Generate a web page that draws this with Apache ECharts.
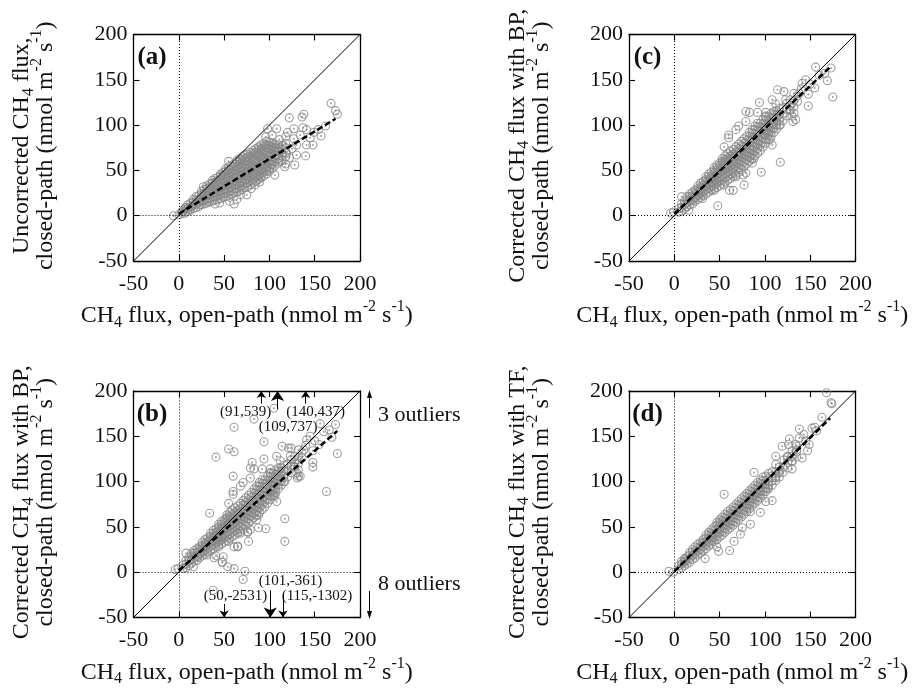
<!DOCTYPE html>
<html>
<head>
<meta charset="utf-8">
<title>CH4 flux: closed-path vs open-path</title>
<script src="https://cdn.jsdelivr.net/npm/echarts@6/dist/echarts.min.js"></script>
<style>
  html, body { margin: 0; padding: 0; background: #fff; }
  #chart { width: 917px; height: 689px; }
</style>
</head>
<body>
<div id="chart"></div>
<script type="text/javascript">
// axis ticks shared by every panel (nmol m-2 s-1)
var axisTicks = [-50, 0, 50, 100, 150, 200];
var oneToOne = [[-50, -50], [200, 200]];

// (a) uncorrected closed-path vs open-path
var aSparse = [[168,124],[173,116],[175,112],[122,108],[136,109],[138,112],[162,99],[154,95],[157,88],[148,78],
  [141,95],[127,96],[137,97],[140,66],[128,56],[118,57],[130,67],[98,96],[96,87],[111,84],[118,87],[55,60],
  [27,32],[61,13],[64,18],[-6,0],[0,1],[84,34],[106,45],[117,54],[45,14],[40,13],[75,23],[127,85],[130,78],
  [125,74],[141,78],[134,89],[149,92],[119,69],[108,67],[104,78],[115,78],[103,56],[112,60],[90,43],[97,49],
  [68,23],[56,16],[12,7],[8,9],[32,16],[23,12],[3,4],[108,96],[103,89],[122,64],[113,72],[120,92],[145,86],
  [89,37],[80,30]];
// columns of the dense cloud: [x, y, y, ...]
var aCore = [
  [4, 2, 5], [7, 3, 7, 9], [10, 5, 8, 12], [13, 6, 10, 14], [16, 8, 12, 15, 18], [19, 9, 13, 17, 21],
  [22, 10, 15, 18, 22], [25, 12, 16, 21, 24, 27], [28, 13, 17, 22, 25, 29], [31, 14, 19, 22, 27, 30, 33],
  [34, 15, 19, 24, 27, 32, 35], [37, 16, 21, 24, 29, 32, 36, 39], [40, 17, 21, 26, 29, 34, 37, 41],
  [43, 18, 23, 26, 31, 34, 39, 42], [46, 19, 23, 28, 31, 36, 39, 44, 46], [49, 20, 25, 28, 33, 36, 41, 44, 48],
  [52, 21, 25, 30, 33, 38, 41, 46, 49, 52], [55, 22, 27, 30, 35, 38, 43, 46, 51, 54],
  [58, 23, 27, 32, 35, 40, 43, 48, 51, 55], [61, 25, 30, 33, 38, 41, 46, 49, 54, 57],
  [64, 26, 30, 35, 38, 43, 46, 51, 54, 59, 61], [67, 28, 33, 36, 41, 44, 49, 52, 57, 60, 63],
  [70, 29, 33, 38, 41, 46, 49, 54, 57, 62, 65], [73, 31, 36, 39, 44, 47, 52, 55, 60, 63, 67],
  [76, 32, 36, 41, 44, 49, 52, 57, 60, 65, 68], [79, 34, 39, 42, 47, 50, 55, 58, 63, 66, 70],
  [82, 36, 40, 45, 48, 53, 56, 61, 64, 69, 72], [85, 38, 43, 46, 51, 54, 59, 62, 67, 70, 74],
  [88, 40, 44, 49, 52, 57, 60, 65, 68, 73, 76], [91, 42, 47, 50, 55, 58, 63, 66, 71, 74, 78],
  [94, 44, 48, 53, 56, 61, 64, 69, 72, 77, 80], [97, 46, 51, 54, 59, 62, 67, 70, 75, 78, 82],
  [100, 49, 53, 58, 61, 66, 69, 74, 77, 81], [103, 52, 57, 60, 65, 68, 73, 76, 80],
  [106, 55, 59, 64, 67, 72, 75, 79], [110, 58, 63, 66, 71, 74, 78], [114, 61, 66, 69, 74, 77],
  [118, 65, 70, 75, 80]];
var aFit = [[0, 2], [173, 107]];

// (c) corrected with BP, outliers removed
var cSparse = [[156,164],[173,163],[166,157],[169,149],[155,141],[175,131],[148,121],[148,134],[141,146],
  [114,139],[121,137],[132,135],[138,135],[130,124],[132,113],[134,106],[131,104],[130,110],[94,125],[83,114],
  [92,114],[101,114],[110,115],[79,104],[60,89],[60,86],[55,76],[71,99],[117,59],[96,48],[76,45],[77,34],
  [61,28],[65,28],[48,11],[31,19],[16,6],[8,21],[-4,3],[-1,4],[106,84],[108,78],[104,91],[86,58],[88,63],
  [79,47],[68,43],[55,34],[44,28],[27,23],[21,17],[47,38],[68,95],[79,115],[108,128],[123,128],[127,117],
  [112,123],[101,110],[117,100],[104,100],[140,140],[145,150],[160,155],[150,145]];
var cCore = [
  [5, 4, 8], [8, 5, 9, 13], [11, 7, 12, 16], [14, 10, 14, 18, 21], [17, 12, 16, 21, 24], [20, 13, 18, 22, 26],
  [23, 16, 20, 25, 28], [26, 18, 22, 27, 30, 33], [29, 20, 25, 28, 32, 36], [32, 22, 26, 31, 34, 38],
  [35, 24, 29, 32, 37, 40, 43], [38, 26, 30, 35, 38, 43, 46], [41, 28, 33, 36, 41, 44, 48],
  [44, 30, 34, 39, 42, 47, 50, 53], [47, 31, 36, 40, 45, 48, 53, 56], [50, 33, 38, 42, 47, 50, 55, 58],
  [53, 35, 40, 44, 49, 52, 57, 60, 63], [56, 37, 42, 46, 51, 54, 59, 62, 66], [59, 39, 44, 48, 53, 56, 61, 64, 69],
  [62, 41, 46, 50, 55, 58, 63, 66, 71], [65, 43, 48, 52, 57, 60, 65, 68, 73], [68, 45, 50, 54, 59, 62, 67, 70, 76],
  [71, 48, 53, 57, 62, 65, 70, 74, 79], [74, 51, 56, 60, 65, 68, 73, 77, 82], [77, 54, 59, 63, 68, 71, 76, 80, 85],
  [80, 57, 62, 66, 71, 74, 79, 83, 88], [83, 60, 65, 69, 74, 77, 82, 87, 92], [86, 63, 68, 72, 77, 81, 86, 91, 95],
  [89, 66, 71, 75, 80, 85, 90, 95, 99], [92, 69, 74, 79, 84, 89, 94, 98, 102], [95, 72, 78, 83, 88, 93, 97, 102],
  [98, 76, 81, 86, 91, 96, 101, 106], [101, 80, 85, 90, 95, 100, 105, 109], [104, 84, 89, 94, 99, 104, 109],
  [107, 88, 93, 98, 103, 108, 113], [110, 92, 97, 102, 107, 112], [113, 96, 101, 106, 111, 116],
  [116, 100, 106, 112, 118], [120, 105, 112, 119], [124, 110, 117, 124], [128, 116, 122, 128],
  [132, 120, 127], [136, 126, 132]];
var cFit = [[0, 2], [172, 164]];

// (b) corrected with BP, all points: (c) plus these
var bExtra = [[61,160],[105,181],[83,169],[41,127],[55,136],[61,133],[94,144],[81,121],[60,106],[34,65],
  [117,34],[163,89],[73,1],[71,-8],[61,4],[54,6],[41,18],[48,11],[38,-20],[124,137],[148,116],[132,106],
  [39,16],[49,17],[65,29],[76,44],[88,49],[105,86]];
var bFit = [[0, 2], [175, 156]];
// points off the scale: [open-path, closed-path]
var bHigh = [[91, 539], [109, 737], [140, 437]];
var bLow = [[50, -2531], [101, -361], [115, -1302]];
var bOutlierCounts = [3, 8];

// (d) corrected with TF
var dSparse = [[168,198],[173,187],[174,186],[163,171],[157,156],[152,159],[138,158],[127,147],[138,148],
  [143,152],[147,134],[141,126],[130,123],[130,114],[121,124],[125,128],[112,128],[112,119],[119,139],
  [126,141],[134,141],[149,141],[55,86],[95,66],[108,79],[84,53],[73,42],[66,34],[61,24],[47,28],[34,15],
  [12,14],[-6,1],[-1,0],[101,78],[112,104],[103,93],[84,67],[95,89],[86,82],[75,49],[49,23],[42,38],
  [31,32],[88,110],[115,111],[145,145],[155,160],[135,135]];
var dCore = [
  [5, 3, 7], [8, 5, 9, 12], [11, 7, 11, 15], [14, 9, 13, 17], [17, 11, 15, 19, 22], [20, 14, 18, 22, 25],
  [23, 16, 20, 24, 28], [26, 19, 23, 27, 31], [29, 21, 25, 29, 33], [32, 24, 28, 32, 36],
  [35, 26, 30, 34, 38, 41], [38, 29, 33, 37, 41, 44], [41, 31, 35, 39, 43, 47], [44, 34, 38, 42, 46, 50],
  [47, 36, 40, 44, 48, 52, 55], [50, 39, 43, 47, 51, 55, 58], [53, 41, 45, 49, 53, 57, 61],
  [56, 44, 48, 52, 56, 60, 64], [59, 47, 51, 55, 59, 63, 67], [62, 49, 53, 57, 61, 65, 69],
  [65, 52, 56, 60, 64, 68, 72], [68, 55, 59, 63, 67, 71, 75], [71, 58, 62, 66, 70, 74, 78],
  [74, 61, 65, 69, 73, 77, 81], [77, 64, 68, 72, 76, 80, 84], [80, 67, 71, 75, 79, 83, 87],
  [83, 70, 74, 78, 82, 86, 90], [86, 73, 77, 81, 85, 89, 93], [89, 76, 80, 84, 88, 92, 96],
  [92, 79, 83, 87, 91, 95, 99], [95, 82, 86, 90, 94, 98, 102], [98, 85, 89, 93, 97, 101, 105],
  [101, 89, 93, 97, 101, 106], [104, 92, 96, 100, 104, 109], [108, 96, 101, 106, 111], [112, 101, 106, 111],
  [116, 105, 110, 116], [120, 110, 116], [125, 115, 121, 127], [130, 122, 128, 134], [135, 127, 133, 139]];
var dFit = [[0, 1], [172, 170]];

var FONT = '"Liberation Serif", "Times New Roman", serif';
var GRAY = '#878787';
var INK = '#111';

function expand(sparse, core) {
  var pts = sparse.slice();
  core.forEach(function (col) {
    for (var i = 1; i < col.length; i++) pts.push([col[0], col[i]]);
  });
  return pts;
}

var cPoints = expand(cSparse, cCore);
var panels = [
  { tag: '(a)', left: 133.5, top: 34.5, pts: expand(aSparse, aCore), fit: aFit,
    ytitle: 'Uncorrected CH{sub|4} flux,' },
  { tag: '(b)', left: 133.5, top: 391, pts: cPoints.concat(bExtra), fit: bFit,
    ytitle: 'Corrected CH{sub|4} flux with BP,' },
  { tag: '(c)', left: 629, top: 34.5, pts: cPoints, fit: cFit,
    ytitle: 'Corrected CH{sub|4} flux with BP,' },
  { tag: '(d)', left: 629, top: 391, pts: expand(dSparse, dCore), fit: dFit,
    ytitle: 'Corrected CH{sub|4} flux with TF,' }
];
var SIDE = 226.5;

var rich = {
  sub: { fontSize: 16, fontFamily: FONT, fill: INK, height: 11, verticalAlign: 'bottom' },
  sup: { fontSize: 16, fontFamily: FONT, fill: INK, height: 6, verticalAlign: 'top' }
};
var xTitle = 'CH{sub|4} flux, open-path (nmol m{sup|-2} s{sup|-1})';
var yTitleTail = 'closed-path (nmol m{sup|-2} s{sup|-1})';

function axis(g, pos, labels) {
  return {
    gridIndex: g, type: 'value', position: pos,
    min: axisTicks[0], max: axisTicks[axisTicks.length - 1], interval: axisTicks[1] - axisTicks[0],
    axisLine: { show: true, onZero: false, lineStyle: { color: '#000', width: 1.3 } },
    axisTick: { show: true, inside: true, length: 6, lineStyle: { color: '#000', width: 1.1 } },
    axisLabel: { show: labels, margin: (pos === 'bottom' ? 12 : 6), fontSize: 22, fontFamily: FONT, color: INK },
    splitLine: { show: false }
  };
}

function titleText(x, y, text, rot) {
  return {
    type: 'text', x: x, y: y, rotation: rot, silent: true,
    style: { text: text, fontSize: 24, fontFamily: FONT, lineHeight: 24, fill: INK,
      align: 'center', verticalAlign: 'middle', textAlign: 'center', textVerticalAlign: 'middle', rich: rich }
  };
}

var grid = [], xAxis = [], yAxis = [], series = [], graphic = [];

panels.forEach(function (p, g) {
  grid.push({ left: p.left, top: p.top, width: SIDE, height: SIDE });
  xAxis.push(axis(g, 'bottom', true), axis(g, 'top', false));
  yAxis.push(axis(g, 'left', true), axis(g, 'right', false));
  var xi = 2 * g, yi = 2 * g;

  series.push({
    type: 'scatter', xAxisIndex: xi, yAxisIndex: yi, data: p.pts, silent: true, z: 2,
    symbol: 'circle', symbolSize: 8,
    itemStyle: { color: 'rgba(0,0,0,0)', borderColor: GRAY, borderWidth: 1.1 },
    markLine: {
      silent: true, symbol: 'none', label: { show: false },
      lineStyle: { color: '#000', width: 1, type: [1, 2] },
      data: [{ xAxis: 0 }, { yAxis: 0 }]
    }
  });
  series.push({
    type: 'scatter', xAxisIndex: xi, yAxisIndex: yi, data: p.pts, silent: true, z: 2,
    symbol: 'circle', symbolSize: 2, itemStyle: { color: GRAY }
  });
  series.push({
    type: 'line', xAxisIndex: xi, yAxisIndex: yi, data: oneToOne, symbol: 'none', silent: true, z: 3,
    lineStyle: { color: '#000', width: 1 }
  });
  series.push({
    type: 'line', xAxisIndex: xi, yAxisIndex: yi, data: p.fit, symbol: 'none', silent: true, z: 4,
    lineStyle: { color: '#000', width: 2.5, type: [6, 3] }
  });

  var cx = p.left + SIDE / 2, cy = p.top + SIDE / 2;
  graphic.push(titleText(cx, p.top + SIDE + 55, xTitle, 0));
  graphic.push(titleText(p.left - 99.5, cy - 2, p.ytitle + '\n' + yTitleTail, Math.PI / 2));
  graphic.push({
    type: 'text', x: p.left + 18.5, y: p.top + 23.5, silent: true,
    style: { text: p.tag, font: 'bold 25px ' + FONT, fill: INK,
      align: 'center', verticalAlign: 'middle', textAlign: 'center', textVerticalAlign: 'middle' }
  });
});

// outlier arrows in panel (b): [start y, arrow size]
var highArrow = [[186, 7], [180, 10], [186, 7]];
var lowArrow = [[-35, 7], [-20, 10], [-24, 7]];
var arrowLines = [];
bHigh.forEach(function (o, i) {
  arrowLines.push([{ coord: [o[0], highArrow[i][0]], symbol: 'none' },
    { coord: [o[0], axisTicks[axisTicks.length - 1]], symbol: 'arrow', symbolSize: highArrow[i][1] }]);
});
bLow.forEach(function (o, i) {
  arrowLines.push([{ coord: [o[0], lowArrow[i][0]], symbol: 'none' },
    { coord: [o[0], axisTicks[0]], symbol: 'arrow', symbolSize: lowArrow[i][1] }]);
});
series.push({
  type: 'scatter', xAxisIndex: 2, yAxisIndex: 2, data: [], silent: true,
  markLine: {
    silent: true, label: { show: false },
    lineStyle: { color: '#000', width: 1, type: 'solid' },
    data: arrowLines
  }
});

// outlier labels, pixel centres
var highLabelPos = [[245.5, 412], [288, 427], [315.5, 412]];
var lowLabelPos = [[235.5, 596], [290.5, 581], [317, 596]];
function outlierLabel(o, pos) {
  return {
    type: 'text', x: pos[0], y: pos[1], silent: true,
    style: { text: '(' + o[0] + ',' + o[1] + ')', fontSize: 15, fontFamily: FONT, fill: INK,
      align: 'center', verticalAlign: 'middle', textAlign: 'center', textVerticalAlign: 'middle' }
  };
}
bHigh.forEach(function (o, i) { graphic.push(outlierLabel(o, highLabelPos[i])); });
bLow.forEach(function (o, i) { graphic.push(outlierLabel(o, lowLabelPos[i])); });

// side notes to the right of (b)
graphic.push(
  { type: 'line', silent: true, shape: { x1: 369.5, y1: 418, x2: 369.5, y2: 396 }, style: { stroke: '#000', lineWidth: 1 } },
  { type: 'polygon', silent: true, shape: { points: [[369.5, 390], [367, 398], [372, 398]] }, style: { fill: '#000' } },
  { type: 'line', silent: true, shape: { x1: 369.5, y1: 591, x2: 369.5, y2: 612 }, style: { stroke: '#000', lineWidth: 1 } },
  { type: 'polygon', silent: true, shape: { points: [[369.5, 619], [367, 611], [372, 611]] }, style: { fill: '#000' } },
  { type: 'text', x: 378, y: 415, silent: true,
    style: { text: bOutlierCounts[0] + ' outliers', fontSize: 22, fontFamily: FONT, fill: INK,
      align: 'left', verticalAlign: 'middle', textAlign: 'left', textVerticalAlign: 'middle' } },
  { type: 'text', x: 378, y: 584, silent: true,
    style: { text: bOutlierCounts[1] + ' outliers', fontSize: 22, fontFamily: FONT, fill: INK,
      align: 'left', verticalAlign: 'middle', textAlign: 'left', textVerticalAlign: 'middle' } }
);

var myChart = echarts.init(document.getElementById('chart'), null, { renderer: 'canvas' });
myChart.setOption({
  animation: false,
  backgroundColor: '#fff',
  textStyle: { fontFamily: FONT },
  grid: grid,
  xAxis: xAxis,
  yAxis: yAxis,
  series: series,
  graphic: graphic
});
</script>
</body>
</html>
